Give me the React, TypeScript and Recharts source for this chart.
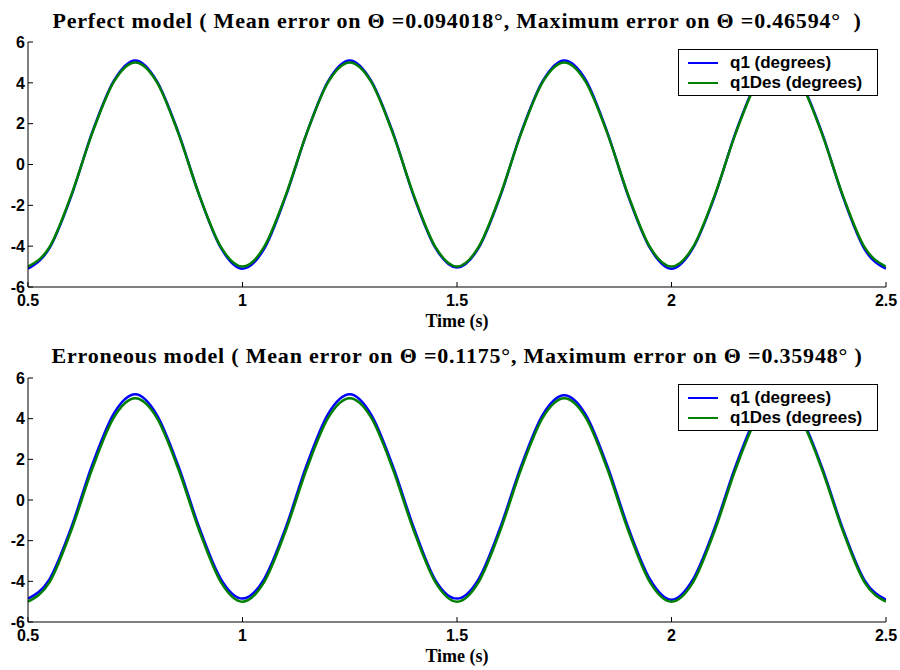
import React from "react";
import { LineChart, Line, XAxis, YAxis, Legend } from "recharts";

// sample times (s)
const time = [
  0.5, 0.55, 0.6, 0.65, 0.7, 0.75, 0.8, 0.85, 0.9, 0.95,
  1.0, 1.05, 1.1, 1.15, 1.2, 1.25, 1.3, 1.35, 1.4, 1.45,
  1.5, 1.55, 1.6, 1.65, 1.7, 1.75, 1.8, 1.85, 1.9, 1.95,
  2.0, 2.05, 2.1, 2.15, 2.2, 2.25, 2.3, 2.35, 2.4, 2.45,
  2.5,
];

// perfect model
const q1Perfect = [
  -5.1, -4.1, -1.6, 1.6, 4.1, 5.1, 4.1, 1.6, -1.55, -4.1,
  -5.1, -4.15, -1.6, 1.55, 4.1, 5.1, 4.1, 1.6, -1.6, -4.1,
  -5.05, -4.1, -1.6, 1.6, 4.1, 5.1, 4.15, 1.6, -1.6, -4.1,
  -5.1, -4.1, -1.6, 1.6, 4.1, 5.05, 4.1, 1.6, -1.6, -4.15,
  -5.1,
];
const q1DesPerfect = [
  -5.0, -4.05, -1.55, 1.55, 4.05, 5.0, 4.05, 1.55, -1.55, -4.05,
  -5.0, -4.05, -1.55, 1.55, 4.05, 5.0, 4.05, 1.55, -1.55, -4.05,
  -5.0, -4.05, -1.55, 1.55, 4.05, 5.0, 4.05, 1.55, -1.55, -4.05,
  -5.0, -4.05, -1.55, 1.55, 4.05, 5.0, 4.05, 1.55, -1.55, -4.05,
  -5.0,
];

// erroneous model
const q1Erroneous = [
  -4.85, -3.9, -1.4, 1.75, 4.25, 5.2, 4.2, 1.7, -1.4, -3.9,
  -4.85, -3.9, -1.4, 1.75, 4.25, 5.2, 4.2, 1.7, -1.4, -3.95,
  -4.85, -3.9, -1.4, 1.7, 4.2, 5.15, 4.2, 1.7, -1.4, -3.9,
  -4.9, -3.9, -1.4, 1.7, 4.2, 5.1, 4.15, 1.65, -1.45, -3.95,
  -4.9,
];
const q1DesErroneous = [
  -5.0, -4.05, -1.55, 1.55, 4.05, 5.0, 4.05, 1.55, -1.55, -4.05,
  -5.0, -4.05, -1.55, 1.55, 4.05, 5.0, 4.05, 1.55, -1.55, -4.05,
  -5.0, -4.05, -1.55, 1.55, 4.05, 5.0, 4.05, 1.55, -1.55, -4.05,
  -5.0, -4.05, -1.55, 1.55, 4.05, 5.0, 4.05, 1.55, -1.55, -4.05,
  -5.0,
];

const xTicks = [0.5, 1, 1.5, 2, 2.5];
const yTicks = [-6, -4, -2, 0, 2, 4, 6];

const titles = [
  "Perfect model ( Mean error on \u0398 =0.094018\u00b0, Maximum error on \u0398 =0.46594\u00b0  )",
  "Erroneous model ( Mean error on \u0398 =0.1175\u00b0, Maximum error on \u0398 =0.35948\u00b0 )",
];

const BLUE = "#0000ff";
const GREEN = "#008000";
const tickStyle = { fontFamily: "Liberation Sans, Arial, sans-serif", fontWeight: 700, fontSize: 16, fill: "#000" };

function build(q1: number[], q1Des: number[]) {
  return time.map((t, i) => ({ t, q1: q1[i], q1Des: q1Des[i] }));
}

function MatLegend() {
  const row = (color: string, label: string) => (
    <div style={{ display: "flex", alignItems: "center", height: 20 }}>
      <div style={{ width: 30, height: 2, background: color, marginLeft: 9, marginRight: 12 }} />
      <span>{label}</span>
    </div>
  );
  return (
    <div
      style={{
        border: "1px solid #000",
        background: "#fff",
        width: 200,
        height: 47,
        boxSizing: "border-box",
        paddingTop: 3,
        fontFamily: "Liberation Sans, Arial, sans-serif",
        fontWeight: 700,
        fontSize: 17,
        color: "#000",
        lineHeight: "20px",
      }}
    >
      {row(BLUE, "q1 (degrees)")}
      {row(GREEN, "q1Des (degrees)")}
    </div>
  );
}

function Panel({ data, top }: { data: any[]; top: number }) {
  return (
    <LineChart
      width={900}
      height={335}
      data={data}
      margin={{ top, right: 14, bottom: 0, left: 0 }}
    >
      <XAxis
        dataKey="t"
        type="number"
        domain={[0.5, 2.5]}
        ticks={xTicks}
        allowDataOverflow
        height={48}
        tickSize={-5}
        tickMargin={13}
        tick={tickStyle}
        stroke="#000"
        tickFormatter={(v: number) => String(v)}
        label={{
          value: "Time (s)",
          position: "insideBottom",
          offset: 8,
          style: { fontFamily: "Liberation Serif, Times New Roman, serif", fontWeight: 700, fontSize: 18, fill: "#000" },
        }}
      />
      <XAxis
        xAxisId="top"
        orientation="top"
        dataKey="t"
        type="number"
        domain={[0.5, 2.5]}
        ticks={xTicks}
        allowDataOverflow
        height={0}
        tickSize={-5}
        stroke="#000"
        tickFormatter={() => ""}
      />
      <YAxis
        domain={[-6, 6]}
        ticks={yTicks}
        allowDataOverflow
        width={28}
        tickSize={-5}
        tickMargin={8}
        tick={tickStyle}
        stroke="#000"
      />
      <YAxis
        yAxisId="right"
        orientation="right"
        domain={[-6, 6]}
        ticks={yTicks}
        allowDataOverflow
        width={0}
        tickSize={-5}
        stroke="#000"
        tickFormatter={() => ""}
      />
      <Legend
        layout="vertical"
        align="center"
        verticalAlign="middle"
        wrapperStyle={{ left: 678, top: 49, width: 200, height: 47 }}
        content={() => <MatLegend />}
      />
      <Line type="monotone" dataKey="q1" stroke={BLUE} strokeWidth={2.5} dot={false} isAnimationActive={false} />
      <Line type="monotone" dataKey="q1Des" stroke={GREEN} strokeWidth={2.5} dot={false} isAnimationActive={false} />
    </LineChart>
  );
}

export default function App() {
  const titleStyle: React.CSSProperties = {
    position: "absolute",
    left: 28,
    width: 858,
    textAlign: "center",
    whiteSpace: "pre",
    fontFamily: "Liberation Serif, Times New Roman, serif",
    fontWeight: 700,
    fontSize: 22,
    letterSpacing: 0.8,
    lineHeight: "20px",
    color: "#000",
  };
  return (
    <div style={{ position: "absolute", left: 0, top: 0, width: 900, height: 670, background: "#fff" }}>
      <div style={{ position: "absolute", left: 0, top: 0 }}>
        <Panel data={build(q1Perfect, q1DesPerfect)} top={42} />
      </div>
      <div style={{ position: "absolute", left: 0, top: 335 }}>
        <Panel data={build(q1Erroneous, q1DesErroneous)} top={43} />
      </div>
      <div style={{ ...titleStyle, top: 11 }}>{titles[0]}</div>
      <div style={{ ...titleStyle, top: 346 }}>{titles[1]}</div>
    </div>
  );
}
